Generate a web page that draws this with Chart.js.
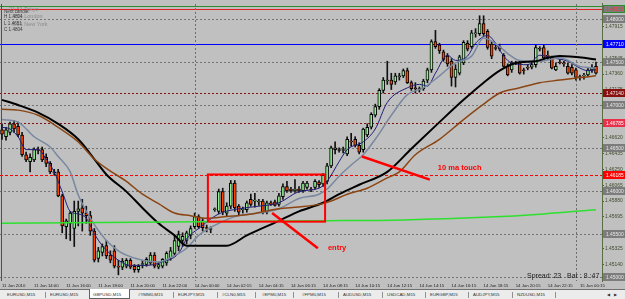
<!DOCTYPE html>
<html><head><meta charset="utf-8">
<script src="https://cdn.jsdelivr.net/npm/chart.js@4.4.0/dist/chart.umd.min.js"></script>
<style>
html,body{margin:0;padding:0;background:#c0c0c0;width:625px;height:299px;overflow:hidden;font-family:Arial,"Liberation Sans",sans-serif}
#wrap{position:absolute;left:0;top:0;width:625px;height:289px}
#tabs{position:absolute;left:0;top:289px;width:625px;height:10px;background:#ececec;border-top:1px solid #707070;box-sizing:border-box}
.tab{position:absolute;top:1px;font-size:4.4px;color:#303030;line-height:8px;white-space:nowrap}
.sep{position:absolute;top:2px;width:1px;height:6px;background:#909090}
.act{position:absolute;top:-1px;left:89px;width:41px;height:10px;background:#fff;border:1px solid #606060;border-top:none;box-sizing:border-box}
</style></head>
<body>
<div id="wrap"><canvas id="c" width="625" height="289"></canvas></div>
<div id="tabs"></div>
<script>
// ---------- data ----------
const tickLabels = ["11 Jun 2010","11 Jun 14:00","11 Jun 16:00","11 Jun 18:00","11 Jun 20:00","11 Jun 22:00","14 Jun 00:00","14 Jun 02:15","14 Jun 04:15","14 Jun 06:15","14 Jun 08:15","14 Jun 10:15","14 Jun 12:15","14 Jun 14:15","14 Jun 16:15","14 Jun 18:15","14 Jun 20:15","14 Jun 22:15","15 Jun 00:15"];
const priceTicks = [1.47915,1.47730,1.47545,1.47360,1.47175,1.46990,1.46805,1.46620,1.46435,1.46250,1.46065,1.45880,1.45695,1.45510,1.45325,1.45140];
const open = [1.4671,1.4663,1.4668,1.4678,1.4675,1.4665,1.4642,1.4634,1.4636,1.4648,
1.4648,1.4639,1.4632,1.4622,1.4622,1.4594,1.4558,1.4562,1.4556,1.4576,
1.4580,1.4574,1.4571,1.4553,1.4521,1.4528,1.4536,1.4525,1.4530,1.4512,
1.4511,1.4512,1.4519,1.4512,1.4508,1.4514,1.4514,1.4516,1.4525,1.4511,
1.4512,1.4516,1.4521,1.4527,1.4535,1.4542,1.4542,1.4548,1.4558,1.4570,
1.4565,1.4557,1.4555,1.4578,1.4576,1.4599,1.4574,1.4582,1.4609,1.4582,
1.4578,1.4578,1.4590,1.4588,1.4587,1.4588,1.4575,1.4586,1.4587,1.4584,
1.4593,1.4605,1.4602,1.4600,1.4602,1.4600,1.4604,1.4602,1.4604,1.4610,
1.4608,1.4611,1.4629,1.4648,1.4648,1.4647,1.4643,1.4658,1.4660,1.4653,
1.4648,1.4665,1.4674,1.4688,1.4698,1.4717,1.4728,1.4729,1.4727,1.4733,
1.4734,1.4740,1.4726,1.4720,1.4719,1.4719,1.4729,1.4741,1.4774,1.4770,
1.4762,1.4757,1.4751,1.4732,1.4737,1.4749,1.4772,1.4768,1.4783,1.4783,
1.4795,1.4786,1.4771,1.4767,1.4768,1.4758,1.4745,1.4741,1.4749,1.4749,
1.4741,1.4744,1.4744,1.4747,1.4766,1.4767,1.4758,1.4755,1.4741,1.4750,
1.4749,1.4745,1.4744,1.4741,1.4733,1.4734,1.4735,1.4741,1.4745];
const high = [1.4678,1.4674,1.4680,1.4682,1.4680,1.4668,1.4645,1.4643,1.4650,1.4651,
1.4651,1.4643,1.4634,1.4625,1.4625,1.4596,1.4567,1.4576,1.4588,1.4588,
1.4590,1.4582,1.4576,1.4556,1.4534,1.4538,1.4542,1.4530,1.4536,1.4519,
1.4521,1.4521,1.4521,1.4514,1.4514,1.4519,1.4522,1.4528,1.4528,1.4517,
1.4521,1.4529,1.4534,1.4547,1.4553,1.4551,1.4553,1.4559,1.4574,1.4572,
1.4568,1.4560,1.4558,1.4580,1.4602,1.4603,1.4586,1.4612,1.4612,1.4584,
1.4581,1.4588,1.4596,1.4597,1.4590,1.4590,1.4588,1.4588,1.4589,1.4597,
1.4608,1.4611,1.4604,1.4613,1.4605,1.4611,1.4611,1.4604,1.4613,1.4612,
1.4620,1.4632,1.4652,1.4657,1.4650,1.4651,1.4663,1.4667,1.4663,1.4656,
1.4673,1.4678,1.4691,1.4701,1.4719,1.4732,1.4751,1.4737,1.4737,1.4737,
1.4742,1.4743,1.4728,1.4726,1.4721,1.4730,1.4743,1.4776,1.4787,1.4772,
1.4764,1.4760,1.4754,1.4747,1.4758,1.4775,1.4775,1.4787,1.4789,1.4804,
1.4804,1.4788,1.4774,1.4770,1.4771,1.4760,1.4748,1.4751,1.4751,1.4751,
1.4743,1.4747,1.4749,1.4770,1.4768,1.4770,1.4763,1.4757,1.4749,1.4753,
1.4751,1.4749,1.4747,1.4743,1.4735,1.4737,1.4743,1.4747,1.4750];
const low = [1.4660,1.4659,1.4665,1.4668,1.4663,1.4640,1.4634,1.4622,1.4634,1.4643,
1.4634,1.4628,1.4620,1.4618,1.4593,1.4551,1.4544,1.4542,1.4535,1.4559,
1.4553,1.4562,1.4548,1.4517,1.4517,1.4524,1.4521,1.4516,1.4510,1.4502,
1.4508,1.4510,1.4509,1.4505,1.4505,1.4510,1.4512,1.4514,1.4510,1.4509,
1.4510,1.4513,1.4519,1.4524,1.4530,1.4535,1.4538,1.4544,1.4556,1.4556,
1.4553,1.4552,1.4551,1.4576,1.4573,1.4572,1.4570,1.4579,1.4576,1.4572,
1.4574,1.4575,1.4582,1.4581,1.4583,1.4573,1.4573,1.4583,1.4582,1.4582,
1.4590,1.4598,1.4598,1.4598,1.4598,1.4598,1.4602,1.4599,1.4602,1.4604,
1.4605,1.4608,1.4627,1.4643,1.4645,1.4644,1.4641,1.4652,1.4651,1.4643,
1.4645,1.4663,1.4672,1.4686,1.4695,1.4714,1.4724,1.4718,1.4724,1.4729,
1.4732,1.4725,1.4717,1.4714,1.4715,1.4717,1.4726,1.4738,1.4766,1.4760,
1.4751,1.4745,1.4722,1.4721,1.4735,1.4747,1.4763,1.4766,1.4779,1.4781,
1.4781,1.4765,1.4754,1.4764,1.4763,1.4744,1.4734,1.4738,1.4747,1.4736,
1.4736,1.4741,1.4742,1.4744,1.4763,1.4753,1.4753,1.4742,1.4740,1.4748,
1.4745,1.4736,1.4735,1.4729,1.4729,1.4730,1.4733,1.4738,1.4736];
const close = [1.4666,1.4671,1.4678,1.4672,1.4665,1.4642,1.4636,1.4639,1.4648,1.4647,
1.4636,1.4632,1.4622,1.4621,1.4594,1.4559,1.4565,1.4574,1.4576,1.4579,
1.4574,1.4571,1.4553,1.4519,1.4530,1.4535,1.4524,1.4519,1.4512,1.4511,
1.4518,1.4519,1.4511,1.4508,1.4512,1.4515,1.4520,1.4525,1.4512,1.4514,
1.4520,1.4527,1.4530,1.4542,1.4549,1.4547,1.4551,1.4556,1.4570,1.4558,
1.4557,1.4556,1.4556,1.4579,1.4599,1.4575,1.4582,1.4609,1.4580,1.4575,
1.4579,1.4586,1.4584,1.4589,1.4588,1.4575,1.4586,1.4584,1.4583,1.4594,
1.4605,1.4600,1.4600,1.4602,1.4600,1.4609,1.4609,1.4601,1.4611,1.4607,
1.4618,1.4629,1.4650,1.4650,1.4647,1.4648,1.4660,1.4657,1.4653,1.4645,
1.4672,1.4674,1.4689,1.4698,1.4717,1.4729,1.4729,1.4724,1.4734,1.4734,
1.4740,1.4726,1.4719,1.4719,1.4718,1.4728,1.4741,1.4774,1.4768,1.4763,
1.4753,1.4748,1.4732,1.4742,1.4756,1.4773,1.4765,1.4784,1.4784,1.4795,
1.4783,1.4767,1.4757,1.4766,1.4765,1.4745,1.4735,1.4749,1.4748,1.4737,
1.4740,1.4743,1.4747,1.4767,1.4765,1.4755,1.4757,1.4743,1.4745,1.4749,
1.4748,1.4737,1.4737,1.4732,1.4732,1.4735,1.4741,1.4744,1.4737];
// moving averages: [bar, price]
const maFast = [[0,1.4674],[2,1.4672],[4,1.4663],[6,1.4648],[9,1.4648],[11,1.4637],[13,1.4622],[15,1.4599],[17,1.4576],[19,1.4573],[21,1.4568],[23,1.4550],[25,1.4536],[29,1.4519],[32,1.4513],[36,1.4513],[40,1.4517],[44,1.4527],[46,1.4544],[49,1.4556],[54,1.4573],[59,1.4579],[64,1.4582],[69,1.4586],[74,1.4599],[79,1.4603],[81,1.4611],[84,1.4634],[86,1.4648],[90,1.4657],[93,1.4672],[96,1.4703],[101,1.4720],[104,1.4724],[106,1.4722],[108,1.4737],[111,1.4758],[113,1.4752],[116,1.4757],[118,1.4772],[121,1.4781],[123,1.4772],[125,1.4757],[127,1.4749],[131,1.4747],[134,1.4758],[137,1.4755],[141,1.4751],[144,1.4743],[146,1.4740],[148,1.4741]];
const maTen = [[0,1.4683],[4,1.4680],[8,1.4663],[12,1.4651],[14,1.4640],[17,1.4622],[19,1.4595],[22,1.4568],[26,1.4542],[29,1.4530],[31,1.4525],[35,1.4519],[39,1.4517],[42,1.4522],[46,1.4533],[49,1.4548],[54,1.4562],[59,1.4571],[64,1.4574],[69,1.4579],[74,1.4591],[79,1.4596],[81,1.4602],[84,1.4617],[87,1.4630],[90,1.4642],[93,1.4660],[97,1.4688],[101,1.4712],[105,1.4720],[109,1.4734],[113,1.4749],[117,1.4757],[120,1.4778],[124,1.4768],[126,1.4760],[129,1.4752],[134,1.4751],[139,1.4755],[144,1.4745],[148,1.4743]];
const maBlack = [[0,1.4706],[4,1.4700],[9,1.4691],[14,1.4678],[19,1.4660],[23,1.4637],[26,1.4619],[31,1.4599],[35,1.4580],[39,1.4562],[43,1.4548],[46,1.4536],[51,1.4536],[56,1.4536],[61,1.4548],[69,1.4565],[74,1.4576],[80,1.4586],[84,1.4596],[89,1.4607],[96,1.4622],[102,1.4649],[109,1.4680],[115,1.4706],[120,1.4726],[124,1.4740],[128,1.4749],[133,1.4751],[136,1.4755],[139,1.4757],[145,1.4755],[148,1.4753]];
const maBrown = [[0,1.4695],[4,1.4694],[9,1.4688],[14,1.4674],[19,1.4657],[23,1.4637],[26,1.4626],[31,1.4611],[35,1.4596],[39,1.4585],[43,1.4574],[47,1.4571],[51,1.4568],[56,1.4570],[61,1.4572],[69,1.4579],[74,1.4581],[80,1.4585],[82,1.4588],[86,1.4596],[91,1.4603],[96,1.4615],[99,1.4622],[103,1.4642],[109,1.4660],[115,1.4683],[120,1.4701],[124,1.4714],[129,1.4720],[134,1.4726],[139,1.4729],[144,1.4732],[148,1.4734]];
const maGreen = [[0,1.4562],[50,1.4564],[80,1.4565],[100,1.4566],[120,1.4569],[135,1.4573],[148,1.4578]];
// horizontal levels / drawn objects
const roundLevels = [1.48000,1.47500,1.47000,1.46500,1.46000,1.45500,1.45000];
const darkRedLevels = [1.47140,1.46785];
const redLevels = [1.46185];
const blueLevels = [1.47710];
const topGreenLevels = [1.48150];
const topRedLevels = [1.48115];
const daySeparators = [48,143];
const entryBox = [51.3,80.5,1.4619,1.4564];
const entryLine = [67.3,1.4574,78.7,1.4533];
const touchLine = [89.7,1.4640,106.6,1.4613];
const notes = [["entry",81.2,1.4533],["10 ma touch",108.6,1.4627]];
const tabNames = ["EURUSD,M15","EURUSD,M15","GBPUSD,M15","#YMM0,M15","EURJPY,M15","#CLN0,M15","#EPM0,M15","#FPM0,M15","AUDUSD,M15","USDCAD,M15","EURGBP,M15","AUDJPY,M15","NZDUSD,M15"];

// ---------- tabs ----------
const tabX=[7,50,93,138,178,222,262,302,343,387,430,473,517];
const sepX=[45,173,217,255,293,338,382,425,468,512,555];
const tabs=document.getElementById('tabs');
tabs.insertAdjacentHTML('beforeend','<div class="act"></div>');
tabNames.forEach((n,i)=>tabs.insertAdjacentHTML('beforeend',`<div class="tab" style="left:${tabX[i]}px">${n}</div>`));
sepX.forEach(x=>tabs.insertAdjacentHTML('beforeend',`<div class="sep" style="left:${x}px"></div>`));
tabs.insertAdjacentHTML('beforeend','<div class="tab" style="left:607px;font-size:4px">◀</div><div class="tab" style="left:614px;font-size:4px">▶</div>');

// ---------- chart ----------
const FONT='Arial, "Liberation Sans", sans-serif';
const hLine=(ctx,a,py,color,dash)=>{py=Math.round(py)+0.5;ctx.strokeStyle=color;ctx.setLineDash(dash);ctx.beginPath();ctx.moveTo(a.left,py);ctx.lineTo(a.right,py);ctx.stroke();};
const decor={
 id:'decor',
 beforeDatasetsDraw(chart){
  const {ctx,chartArea:a,scales:{x,y}}=chart;
  ctx.save();ctx.lineWidth=1;
  roundLevels.forEach(v=>hLine(ctx,a,y.getPixelForValue(v),'#747474',[2,2]));
  darkRedLevels.forEach(v=>hLine(ctx,a,y.getPixelForValue(v),'#8a1010',[2,2]));
  redLevels.forEach(v=>hLine(ctx,a,y.getPixelForValue(v),'#ff0000',[3,2]));
  blueLevels.forEach(v=>hLine(ctx,a,y.getPixelForValue(v),'#0000ff',[]));
  topGreenLevels.forEach(v=>hLine(ctx,a,y.getPixelForValue(v),'#2e8b2e',[]));
  topRedLevels.forEach(v=>hLine(ctx,a,y.getPixelForValue(v),'#e02020',[]));
  ctx.strokeStyle='#6e6e6e';ctx.setLineDash([2,2]);
  daySeparators.forEach(b=>{const px=Math.round(x.getPixelForValue(b))+0.5;ctx.beginPath();ctx.moveTo(px,a.top);ctx.lineTo(px,a.bottom);ctx.stroke();});
  ctx.setLineDash([]);ctx.strokeStyle='#505050';
  ctx.beginPath();ctx.moveTo(1.5,a.top);ctx.lineTo(1.5,a.bottom);ctx.stroke();
  ctx.restore();
 },
 afterDatasetsDraw(chart){
  const {ctx,scales:{x,y}}=chart;
  ctx.save();ctx.strokeStyle='#ff0000';ctx.setLineDash([]);
  ctx.lineWidth=2;
  const bx0=x.getPixelForValue(entryBox[0]),bx1=x.getPixelForValue(entryBox[1]);
  const by0=y.getPixelForValue(entryBox[2]),by1=y.getPixelForValue(entryBox[3]);
  ctx.strokeRect(bx0,by0,bx1-bx0,by1-by0);
  ctx.lineWidth=2.5;
  [entryLine,touchLine].forEach(l=>{ctx.beginPath();ctx.moveTo(x.getPixelForValue(l[0]),y.getPixelForValue(l[1]));ctx.lineTo(x.getPixelForValue(l[2]),y.getPixelForValue(l[3]));ctx.stroke();});
  ctx.fillStyle='#ff0000';ctx.font='bold 7.5px '+FONT;ctx.textBaseline='middle';ctx.textAlign='left';
  notes.forEach(n=>ctx.fillText(n[0],x.getPixelForValue(n[1]),y.getPixelForValue(n[2])));
  ctx.restore();
 },
 afterDraw(chart){
  const {ctx,chartArea:a,scales:{y}}=chart;
  ctx.save();ctx.textBaseline='middle';ctx.textAlign='left';ctx.font='4.9px '+FONT;
  const box=(v,bg,fg,border)=>{const py=Math.round(y.getPixelForValue(v));ctx.fillStyle=bg;ctx.fillRect(y.left+1,py-4,22,8);if(border){ctx.strokeStyle=border;ctx.lineWidth=1;ctx.strokeRect(y.left+1.5,py-3.5,21,7);}ctx.fillStyle=fg;ctx.fillText(v.toFixed(5),y.left+4,py+0.5);};
  roundLevels.forEach(v=>box(v,'#7c7c7c','#e8e8e8'));
  box(darkRedLevels[0],'#8a1010','#f0f0f0');
  box(darkRedLevels[1],'#e8304a','#ffffff');
  redLevels.forEach(v=>box(v,'#ff0000','#ffffff'));
  blueLevels.forEach(v=>box(v,'#0000ff','#ffffff'));
  topRedLevels.forEach(v=>box(v,'#7c7c7c','#ff3030','#2e8b2e'));
  // info overlay
  ctx.font='5.5px '+FONT;ctx.fillStyle='#8c8c8c';
  ctx.fillText('21:51 Tokyo',9,9);ctx.fillText('3:51 London',12,16.5);ctx.fillText('8:51 New York',12,24);
  ctx.font='4.6px '+FONT;ctx.fillStyle='#3a3a3a';
  ctx.fillText('Next candle:',4,12);ctx.fillText('H 1.4804',4,16.5);ctx.fillText('L 1.4651',4,24);ctx.fillText('C 1.4804',4,29.5);
  ctx.font='7px '+FONT;ctx.fillStyle='#1a1a1a';
  ctx.fillText('Spread: 23',527,a.bottom-4.5);ctx.fillText('Bar : 8 :47',567,a.bottom-4.5);
  ctx.restore();
 }
};
const idx=open.map((_,i)=>i);
new Chart(document.getElementById('c'),{
 type:'bar',
 data:{datasets:[
  {type:'line',data:maGreen.map(p=>({x:p[0],y:p[1]})),borderColor:'#2ee02e',borderWidth:1.5,pointRadius:0,cubicInterpolationMode:'monotone',order:1},
  {type:'line',data:maBrown.map(p=>({x:p[0],y:p[1]})),borderColor:'#8b4513',borderWidth:1.5,pointRadius:0,cubicInterpolationMode:'monotone',order:1},
  {type:'line',data:maBlack.map(p=>({x:p[0],y:p[1]})),borderColor:'#000000',borderWidth:2,pointRadius:0,cubicInterpolationMode:'monotone',order:1},
  {type:'line',data:maTen.map(p=>({x:p[0],y:p[1]})),borderColor:'#7888a0',borderWidth:1.5,pointRadius:0,cubicInterpolationMode:'monotone',order:1},
  {type:'line',data:maFast.map(p=>({x:p[0],y:p[1]})),borderColor:'#1e1e78',borderWidth:1,pointRadius:0,cubicInterpolationMode:'monotone',order:1},
  {data:idx.map(i=>({x:i,y:[low[i],high[i]]})),backgroundColor:'#101010',borderWidth:0,barThickness:1,grouped:false,order:3},
  {data:idx.map(i=>({x:i,y:[open[i],close[i]]})),backgroundColor:idx.map(i=>close[i]>=open[i]?'#90ee90':'#ff4500'),borderColor:'#000000',borderWidth:1,borderSkipped:false,barThickness:3,grouped:false,order:2}
 ]},
 options:{
  responsive:false,animation:false,devicePixelRatio:1,
  layout:{padding:0},
  plugins:{legend:{display:false},tooltip:{enabled:false}},
  scales:{
   x:{type:'linear',min:-0.5,max:149.5,offset:false,
      grid:{display:false,drawTicks:false},border:{display:false},
      afterBuildTicks:s=>{s.ticks=tickLabels.map((_,k)=>({value:k*8}));},
      afterFit:s=>{s.height=8;},
      ticks:{autoSkip:false,maxRotation:0,minRotation:0,align:'start',padding:2,color:'#1a1a1a',font:{size:4.3,family:FONT},callback:v=>tickLabels[Math.round(v/8)]}},
   y:{type:'linear',position:'right',min:1.44948,max:1.48178,
      grid:{display:true,drawOnChartArea:false,drawTicks:true,tickLength:2,color:'#4a5a38'},
      border:{display:true,color:'#5a6e46'},
      afterBuildTicks:s=>{s.ticks=priceTicks.map(v=>({value:v}));},
      afterFit:s=>{s.width=23;},
      ticks:{padding:1,color:'#3c4a28',font:{size:4.9,family:FONT},callback:v=>v.toFixed(5)}}
  }
 },
 plugins:[decor]
});
</script>
</body></html>
